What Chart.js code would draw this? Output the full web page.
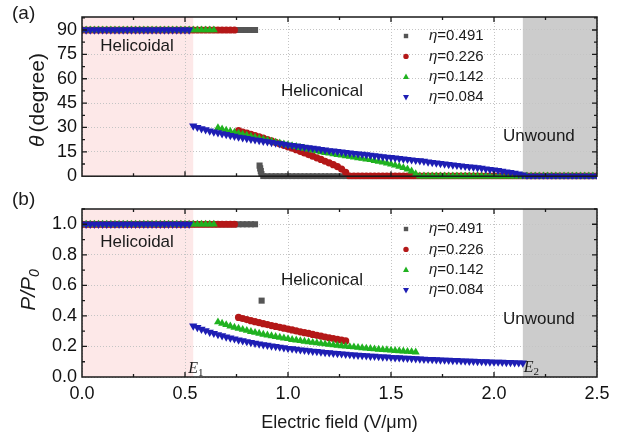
<!DOCTYPE html>
<html>
<head>
<meta charset="utf-8">
<title>Tilt angle and pitch vs electric field</title>
<script src="https://cdn.jsdelivr.net/npm/chart.js@4.4.1/dist/chart.umd.min.js"></script>
<style>
  html, body { margin: 0; padding: 0; background: #fff; }
  #wrap { position: relative; width: 620px; height: 443px; }
  #wrap canvas { position: absolute; left: 0; }
  #thetaChart { top: 0; }
  #pitchChart { top: 192px; }
</style>
</head>
<body>
<div id="wrap">
  <canvas id="thetaChart" width="620" height="192"></canvas>
  <canvas id="pitchChart" width="620" height="251"></canvas>
</div>
<script>
// Field grid (V/um) shared by every series
const FIELD = [
  0, 0.02, 0.04, 0.06, 0.08, 0.1, 0.12, 0.14, 0.16, 0.18,
  0.2, 0.22, 0.24, 0.26, 0.28, 0.3, 0.32, 0.34, 0.36, 0.38,
  0.4, 0.42, 0.44, 0.46, 0.48, 0.5, 0.52, 0.54, 0.56, 0.58,
  0.6, 0.62, 0.64, 0.66, 0.68, 0.7, 0.72, 0.74, 0.76, 0.78,
  0.8, 0.82, 0.84, 0.86, 0.88, 0.9, 0.92, 0.94, 0.96, 0.98,
  1, 1.02, 1.04, 1.06, 1.08, 1.1, 1.12, 1.14, 1.16, 1.18,
  1.2, 1.22, 1.24, 1.26, 1.28, 1.3, 1.32, 1.34, 1.36, 1.38,
  1.4, 1.42, 1.44, 1.46, 1.48, 1.5, 1.52, 1.54, 1.56, 1.58,
  1.6, 1.62, 1.64, 1.66, 1.68, 1.7, 1.72, 1.74, 1.76, 1.78,
  1.8, 1.82, 1.84, 1.86, 1.88, 1.9, 1.92, 1.94, 1.96, 1.98,
  2, 2.02, 2.04, 2.06, 2.08, 2.1, 2.12, 2.14, 2.16, 2.18,
  2.2, 2.22, 2.24, 2.26, 2.28, 2.3, 2.32, 2.34, 2.36, 2.38,
  2.4, 2.42, 2.44, 2.46, 2.48, 2.5
];

const ETA = ['0.491', '0.226', '0.142', '0.084'];

// Cone angle theta (degree)
const THETA_0491 = [
  90, 90, 90, 90, 90, 90, 90, 90, 90, 90,
  90, 90, 90, 90, 90, 90, 90, 90, 90, 90,
  90, 90, 90, 90, 90, 90, 90, 90, 90, 90,
  90, 90, 90, 90, 90, 90, 90, 90, 90, 90,
  90, 90, 90, null, 0, 0, 0, 0, 0, 0,
  0, 0, 0, 0, 0, 0, 0, 0, 0, 0,
  0, 0, 0, 0, 0, 0, 0, 0, 0, 0,
  0, 0, 0, 0, 0, 0, 0, 0, 0, 0,
  0, 0, 0, 0, 0, 0, 0, 0, 0, 0,
  0, 0, 0, 0, 0, 0, 0, 0, 0, 0,
  0, 0, 0, 0, 0, 0, 0, 0, 0, 0,
  0, 0, 0, 0, 0, 0, 0, 0, 0, 0,
  0, 0, 0, 0, 0, 0
];
const THETA_0226 = [
  90, 90, 90, 90, 90, 90, 90, 90, 90, 90,
  90, 90, 90, 90, 90, 90, 90, 90, 90, 90,
  90, 90, 90, 90, 90, 90, 90, 90, 90, 90,
  90, 90, 90, 90, 90, 90, 90, 90, 28.0, 27.2,
  26.5, 25.7, 25.0, 24.2, 23.4, 22.6, 21.7, 20.8, 19.9, 19.0,
  18.1, 17.2, 16.3, 15.3, 14.3, 13.3, 12.3, 11.3, 10.3, 9.2,
  8.2, 7.1, 5.9, 4.4, 2.4, 0, 0, 0, 0, 0,
  0, 0, 0, 0, 0, 0, 0, 0, 0, 0,
  0, 0, 0, 0, 0, 0, 0, 0, 0, 0,
  0, 0, 0, 0, 0, 0, 0, 0, 0, 0,
  0, 0, 0, 0, 0, 0, 0, 0, 0, 0,
  0, 0, 0, 0, 0, 0, 0, 0, 0, 0,
  0, 0, 0, 0, 0, 0
];
const THETA_0142 = [
  90, 90, 90, 90, 90, 90, 90, 90, 90, 90,
  90, 90, 90, 90, 90, 90, 90, 90, 90, 90,
  90, 90, 90, 90, 90, 90, 90, 90, 90, 90,
  90, 90, 90, 29.8, 29.0, 28.3, 27.6, 27.0, 26.4, 25.7,
  25.1, 24.5, 23.9, 23.3, 22.7, 22.1, 21.5, 20.9, 20.4, 19.8,
  19.3, 18.7, 18.2, 17.6, 17.1, 16.6, 16.0, 15.5, 15.0, 14.5,
  14.1, 13.7, 13.3, 12.9, 12.5, 12.1, 11.7, 11.3, 10.9, 10.5,
  10.1, 9.6, 9.1, 8.6, 8.0, 7.4, 6.7, 6.0, 5.2, 4.3,
  3.1, 1.4, 0, 0, 0, 0, 0, 0, 0, 0,
  0, 0, 0, 0, 0, 0, 0, 0, 0, 0,
  0, 0, 0, 0, 0, 0, 0, 0, 0, 0,
  0, 0, 0, 0, 0, 0, 0, 0, 0, 0,
  0, 0, 0, 0, 0, 0
];
const THETA_0084 = [
  90, 90, 90, 90, 90, 90, 90, 90, 90, 90,
  90, 90, 90, 90, 90, 90, 90, 90, 90, 90,
  90, 90, 90, 90, 90, 90, 90, 31.0, 30.1, 29.3,
  28.6, 27.9, 27.3, 26.8, 26.2, 25.7, 25.1, 24.6, 24.1, 23.7,
  23.2, 22.8, 22.4, 22.0, 21.6, 21.2, 20.8, 20.4, 20.0, 19.7,
  19.3, 18.9, 18.6, 18.3, 17.9, 17.6, 17.2, 16.9, 16.5, 16.2,
  15.8, 15.5, 15.2, 14.9, 14.6, 14.3, 14.1, 13.8, 13.5, 13.2,
  12.9, 12.6, 12.3, 12.0, 11.7, 11.5, 11.2, 10.9, 10.6, 10.4,
  10.1, 9.8, 9.5, 9.2, 8.8, 8.5, 8.2, 7.9, 7.6, 7.3,
  7.0, 6.7, 6.4, 6.1, 5.8, 5.5, 5.2, 4.9, 4.5, 4.2,
  3.9, 3.5, 3.1, 2.7, 2.3, 1.9, 1.4, 0.8, 0, 0,
  0, 0, 0, 0, 0, 0, 0, 0, 0, 0,
  0, 0, 0, 0, 0, 0
];
// theta=0.491 falls off steeply just above 0.86 V/um
const STEP_FIELD_0491 = [0.862, 0.865, 0.868, 0.871];
const STEP_THETA_0491 = [6.5, 4.8, 3.1, 1.4];

// Normalised pitch P/P0 (series end where the helix unwinds)
const P_0491 = [
  1, 1, 1, 1, 1, 1, 1, 1, 1, 1,
  1, 1, 1, 1, 1, 1, 1, 1, 1, 1,
  1, 1, 1, 1, 1, 1, 1, 1, 1, 1,
  1, 1, 1, 1, 1, 1, 1, 1, 1, 1,
  1, 1, 1
];
const STEP_FIELD_P_0491 = [0.872];
const STEP_P_0491 = [0.5];
const P_0226 = [
  1, 1, 1, 1, 1, 1, 1, 1, 1, 1,
  1, 1, 1, 1, 1, 1, 1, 1, 1, 1,
  1, 1, 1, 1, 1, 1, 1, 1, 1, 1,
  1, 1, 1, 1, 1, 1, 1, 1, 0.390, 0.383,
  0.376, 0.369, 0.362, 0.356, 0.349, 0.343, 0.337, 0.331, 0.325, 0.320,
  0.314, 0.308, 0.302, 0.296, 0.290, 0.285, 0.279, 0.273, 0.268, 0.262,
  0.257, 0.252, 0.246, 0.241, 0.236
];
const P_0142 = [
  1, 1, 1, 1, 1, 1, 1, 1, 1, 1,
  1, 1, 1, 1, 1, 1, 1, 1, 1, 1,
  1, 1, 1, 1, 1, 1, 1, 1, 1, 1,
  1, 1, 1, 0.360, 0.351, 0.342, 0.333, 0.325, 0.318, 0.311,
  0.304, 0.297, 0.291, 0.285, 0.279, 0.274, 0.269, 0.264, 0.259, 0.254,
  0.250, 0.245, 0.241, 0.237, 0.233, 0.230, 0.226, 0.223, 0.219, 0.216,
  0.213, 0.210, 0.207, 0.204, 0.201, 0.198, 0.196, 0.193, 0.191, 0.188,
  0.186, 0.183, 0.181, 0.179, 0.177, 0.175, 0.173, 0.171, 0.169, 0.167,
  0.165, 0.163
];
const P_0084 = [
  1, 1, 1, 1, 1, 1, 1, 1, 1, 1,
  1, 1, 1, 1, 1, 1, 1, 1, 1, 1,
  1, 1, 1, 1, 1, 1, 1, 0.335, 0.324, 0.313,
  0.304, 0.294, 0.286, 0.278, 0.270, 0.263, 0.256, 0.250, 0.243, 0.238,
  0.232, 0.227, 0.222, 0.217, 0.212, 0.208, 0.204, 0.200, 0.196, 0.192,
  0.188, 0.185, 0.182, 0.178, 0.175, 0.172, 0.169, 0.167, 0.164, 0.161,
  0.159, 0.156, 0.154, 0.152, 0.150, 0.147, 0.145, 0.143, 0.141, 0.139,
  0.137, 0.136, 0.134, 0.132, 0.131, 0.129, 0.127, 0.126, 0.124, 0.123,
  0.121, 0.120, 0.119, 0.117, 0.116, 0.115, 0.113, 0.112, 0.111, 0.110,
  0.109, 0.108, 0.106, 0.105, 0.104, 0.103, 0.102, 0.101, 0.100, 0.099,
  0.098, 0.098, 0.097, 0.096, 0.095, 0.094, 0.093, 0.092
];

// Phase boundaries E1 and E2 (V/um)
const E1 = 0.54;
const E2 = 2.14;

const SANS = "'Liberation Sans', Arial, sans-serif";
const SERIF = "'Liberation Serif', 'Times New Roman', serif";
Chart.defaults.font.family = SANS;
Chart.defaults.color = '#111';

const SERIES = [
  { color: '#555555', style: 'rect', rotation: 0, radius: 4.3 },
  { color: '#b41818', style: 'circle', rotation: 0, radius: 3.6 },
  { color: '#20b220', style: 'triangle', rotation: 0, radius: 4.6 },
  { color: '#1e1eb4', style: 'triangle', rotation: 180, radius: 4.8 }
];

function toPoints(xs, ys) {
  const pts = [];
  xs.forEach(function (x, i) {
    if (ys[i] !== undefined && ys[i] !== null) pts.push({ x: x, y: ys[i] });
  });
  return pts;
}

function buildDatasets(pointSets) {
  return pointSets.map(function (pts, k) {
    const s = SERIES[k];
    return {
      label: 'η=' + ETA[k],
      data: pts,
      showLine: false,
      pointStyle: s.style,
      pointRotation: s.rotation,
      pointRadius: s.radius,
      pointHoverRadius: s.radius,
      pointBorderWidth: 0,
      pointBackgroundColor: s.color,
      pointBorderColor: s.color,
      order: pointSets.length - 1 - k,   // last series on top
      clip: { left: 0, top: 2, right: 0, bottom: 3 }
    };
  });
}

function drawMarker(ctx, s, x, y) {
  ctx.fillStyle = s.color;
  ctx.beginPath();
  if (s.style === 'rect') {
    ctx.rect(x - 2.2, y - 2.2, 4.4, 4.4);
  } else if (s.style === 'circle') {
    ctx.arc(x, y, 2.7, 0, Math.PI * 2);
  } else {
    const d = s.rotation ? -1 : 1;
    ctx.moveTo(x, y - 3.2 * d);
    ctx.lineTo(x + 3, y + 2.2 * d);
    ctx.lineTo(x - 3, y + 2.2 * d);
    ctx.closePath();
  }
  ctx.fill();
}

// Shaded phase regions, frame, inward ticks and annotations for one panel
function panelDecor(cfg) {
  return {
    id: 'panelDecor',
    beforeDraw: function (chart) {
      const ctx = chart.ctx, a = chart.chartArea, x = chart.scales.x;
      const p1 = x.getPixelForValue(E1), p2 = x.getPixelForValue(E2);
      ctx.save();
      ctx.fillStyle = '#fde8e8';
      ctx.fillRect(a.left, a.top, p1 - a.left, a.bottom - a.top);
      ctx.fillStyle = '#cccccc';
      ctx.fillRect(p2, a.top, a.right - p2, a.bottom - a.top);
      ctx.restore();
    },
    afterDraw: function (chart) {
      const ctx = chart.ctx, a = chart.chartArea;
      const x = chart.scales.x, y = chart.scales.y;
      ctx.save();

      // frame
      ctx.strokeStyle = '#1a1a1a';
      ctx.lineWidth = 1.5;
      ctx.strokeRect(a.left, a.top, a.right - a.left, a.bottom - a.top);

      // inward ticks on all four sides
      ctx.lineWidth = 1.3;
      ctx.beginPath();
      for (let i = 1; i < 10; i++) {
        const px = x.getPixelForValue(i * 0.25);
        const len = i % 2 === 0 ? 5 : 3;
        ctx.moveTo(px, a.bottom); ctx.lineTo(px, a.bottom - len);
        ctx.moveTo(px, a.top); ctx.lineTo(px, a.top + len);
      }
      for (let i = 1; i <= cfg.yCount; i++) {
        const py = y.getPixelForValue(i * cfg.minorY);
        const len = i % 2 === 0 ? 5 : 3;
        ctx.moveTo(a.left, py); ctx.lineTo(a.left + len, py);
        ctx.moveTo(a.right, py); ctx.lineTo(a.right - len, py);
      }
      ctx.stroke();

      // phase names
      ctx.fillStyle = '#1a1a1a';
      ctx.font = '17px ' + SANS;
      ctx.textAlign = 'center';
      ctx.textBaseline = 'middle';
      cfg.regions.forEach(function (r) {
        ctx.fillText(r[0], x.getPixelForValue(r[1]), y.getPixelForValue(r[2]));
      });

      // legend
      ctx.textAlign = 'left';
      SERIES.forEach(function (s, k) {
        const ly = cfg.legendTop + k * 20.4;
        drawMarker(ctx, s, 406, ly);
        ctx.fillStyle = '#1a1a1a';
        ctx.font = 'italic 15px ' + SANS;
        ctx.fillText('η', 429, ly);
        const w = ctx.measureText('η').width;
        ctx.font = '15px ' + SANS;
        ctx.fillText('=' + ETA[k], 429 + w, ly);
      });

      // panel tag
      ctx.font = '19px ' + SANS;
      ctx.fillText(cfg.tag, 12, cfg.tagY);

      if (cfg.after) cfg.after(ctx, chart);
      ctx.restore();
    }
  };
}

function xAxis(withLabels) {
  return {
    type: 'linear',
    min: 0,
    max: 2.5,
    afterFit: function (s) { s.height = withLabels ? 66 : 8; },
    grid: { color: '#c4c4c4', lineWidth: 1, drawTicks: false },
    border: { display: false, dash: [1, 2] },
    ticks: {
      display: withLabels,
      stepSize: 0.5,
      padding: 6,
      maxRotation: 0,
      autoSkip: false,
      includeBounds: false,
      font: { size: 18 },
      callback: function (v) { return v.toFixed(1); }
    }
  };
}

function yAxis(max, step, digits) {
  return {
    type: 'linear',
    min: 0,
    max: max,
    afterFit: function (s) { s.width = 82; },
    grid: { color: '#c4c4c4', lineWidth: 1, drawTicks: false },
    border: { display: false, dash: [1, 2] },
    ticks: {
      stepSize: step,
      padding: 5,
      autoSkip: false,
      includeBounds: false,
      font: { size: 18 },
      callback: function (v) { return v.toFixed(digits); }
    }
  };
}

function baseOptions(xs, ys) {
  return {
    responsive: false,
    animation: false,
    events: [],
    layout: { padding: { top: 17, right: 23, left: 0, bottom: 0 } },
    plugins: { legend: { display: false }, tooltip: { enabled: false } },
    scales: { x: xs, y: ys }
  };
}

// (a) cone angle
const thetaSets = [
  toPoints(FIELD, THETA_0491).concat(toPoints(STEP_FIELD_0491, STEP_THETA_0491)),
  toPoints(FIELD, THETA_0226),
  toPoints(FIELD, THETA_0142),
  toPoints(FIELD, THETA_0084)
];

new Chart(document.getElementById('thetaChart'), {
  type: 'scatter',
  data: { datasets: buildDatasets(thetaSets) },
  options: baseOptions(xAxis(false), yAxis(98, 15, 0)),
  plugins: [panelDecor({
    tag: '(a)', tagY: 14,
    minorY: 7.5, yCount: 13,
    legendTop: 36,
    regions: [['Helicoidal', 0.267, 80], ['Heliconical', 1.165, 52.4], ['Unwound', 2.218, 24.7]],
    after: function (ctx) {
      ctx.translate(38, 100);
      ctx.rotate(-Math.PI / 2);
      ctx.textBaseline = 'middle';
      ctx.font = 'italic 21px ' + SANS;
      const w1 = ctx.measureText('θ').width + 3;
      ctx.font = '21px ' + SANS;
      const w2 = ctx.measureText('(degree)').width;
      const x0 = -(w1 + w2) / 2;
      ctx.font = 'italic 21px ' + SANS;
      ctx.fillText('θ', x0, 0);
      ctx.font = '21px ' + SANS;
      ctx.fillText('(degree)', x0 + w1, 0);
    }
  })]
});

// (b) normalised pitch
const pitchSets = [
  toPoints(FIELD, P_0491).concat(toPoints(STEP_FIELD_P_0491, STEP_P_0491)),
  toPoints(FIELD, P_0226),
  toPoints(FIELD, P_0142),
  toPoints(FIELD, P_0084)
];

new Chart(document.getElementById('pitchChart'), {
  type: 'scatter',
  data: { datasets: buildDatasets(pitchSets) },
  options: baseOptions(xAxis(true), yAxis(1.1, 0.2, 1)),
  plugins: [panelDecor({
    tag: '(b)', tagY: 8,
    minorY: 0.1, yCount: 11,
    legendTop: 37,
    regions: [['Helicoidal', 0.267, 0.88], ['Heliconical', 1.165, 0.633], ['Unwound', 2.218, 0.377]],
    after: function (ctx, chart) {
      const x = chart.scales.x;
      ctx.textBaseline = 'alphabetic';

      // boundary field labels
      [['1', E1, -5, 181], ['2', E2, 1, 180]].forEach(function (e) {
        const px = x.getPixelForValue(e[1]) + e[2];
        ctx.font = 'italic 16px ' + SERIF;
        ctx.fillText('E', px, e[3]);
        const w = ctx.measureText('E').width;
        ctx.font = '11px ' + SERIF;
        ctx.fillText(e[0], px + w, e[3] + 3);
      });

      // x axis title
      ctx.font = '18px ' + SANS;
      ctx.textAlign = 'center';
      ctx.textBaseline = 'middle';
      ctx.fillText('Electric field (V/μm)', (chart.chartArea.left + chart.chartArea.right) / 2, 231);

      // y axis title P/P0
      ctx.translate(29, 98);
      ctx.rotate(-Math.PI / 2);
      ctx.textAlign = 'left';
      ctx.font = 'italic 21px ' + SANS;
      const w1 = ctx.measureText('P/P').width;
      ctx.font = 'italic 14px ' + SANS;
      const w2 = ctx.measureText('0').width;
      const x0 = -(w1 + w2) / 2;
      ctx.font = 'italic 21px ' + SANS;
      ctx.fillText('P/P', x0, 0);
      ctx.font = 'italic 14px ' + SANS;
      ctx.fillText('0', x0 + w1, 6);
    }
  })]
});
</script>
</body>
</html>
